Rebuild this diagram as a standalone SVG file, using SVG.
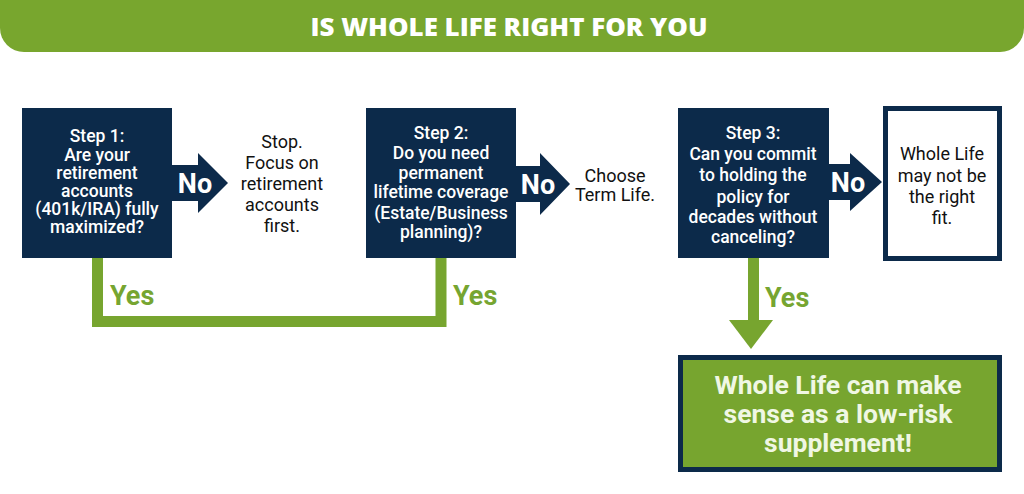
<svg xmlns="http://www.w3.org/2000/svg" width="1024" height="494" viewBox="0 0 1024 494">
<style>
.step{fill:#0c2a4a}
.bt{font-family:Roboto,"Liberation Sans",sans-serif;font-size:17.5px;font-weight:500;fill:#ffffff;text-anchor:middle}
.ot{font-family:Roboto,"Liberation Sans",sans-serif;font-size:18px;font-weight:400;fill:#111111;text-anchor:middle}
.no{font-family:Roboto,"Liberation Sans",sans-serif;font-size:27px;font-weight:700;fill:#ffffff;text-anchor:middle}
.yes{font-family:Roboto,"Liberation Sans",sans-serif;font-size:27px;font-weight:700;fill:#76a531}
.res{font-family:Roboto,"Liberation Sans",sans-serif;font-size:26.5px;font-weight:700;fill:#f0f7e4;text-anchor:middle}
.arr{fill:#0c2a4a}
.link{fill:none;stroke:#77a52f;stroke-width:11}
</style>
<rect width="1024" height="494" fill="#ffffff"/>
<g id="header">
<path d="M0,0 H1024 V28 A24,24 0 0 1 1000,52 H24 A24,24 0 0 1 0,28 Z" fill="#78a62e"/>
<text x="509" y="36" font-family="'Open Sans',Lato,sans-serif" font-size="25" font-weight="800" fill="#ffffff" text-anchor="middle" textLength="397" lengthAdjust="spacingAndGlyphs">IS WHOLE LIFE RIGHT FOR YOU</text>
</g>
<g id="connectors">
<path class="arr" d="M172,165 H198 V153 L228,183 L198,213 V201 H172 Z"/>
<text class="no" x="195" y="193">No</text>
<path class="arr" d="M516,166 H540 V153 L570,184 L540,215 V202 H516 Z"/>
<text class="no" x="538" y="194">No</text>
<path class="arr" d="M829,164 H850 V153 L882,182 L850,211 V200 H829 Z"/>
<text class="no" x="848" y="192">No</text>
<path class="link" d="M97.5,258 V321.5 H441 V258"/>
<text class="yes" x="110" y="305">Yes</text>
<text class="yes" x="453" y="305">Yes</text>
<rect x="748" y="258" width="11" height="64" fill="#77a52f"/>
<path d="M729,320 H773 L751,349 Z" fill="#77a52f"/>
<text class="yes" x="765" y="307">Yes</text>
</g>
<g id="step1">
<rect class="step" x="22" y="108" width="150" height="150"/>
<text class="bt" x="97" y="142">Step 1:</text>
<text class="bt" x="97" y="161">Are your</text>
<text class="bt" x="97" y="179">retirement</text>
<text class="bt" x="97" y="197">accounts</text>
<text class="bt" x="97" y="215">(401k/IRA) fully</text>
<text class="bt" x="97" y="233">maximized?</text>
</g>
<g id="stop">
<text class="ot" x="282" y="148">Stop.</text>
<text class="ot" x="282" y="169">Focus on</text>
<text class="ot" x="282" y="190">retirement</text>
<text class="ot" x="282" y="211">accounts</text>
<text class="ot" x="282" y="232">first.</text>
</g>
<g id="step2">
<rect class="step" x="366" y="108" width="150" height="150"/>
<text class="bt" x="441" y="139">Step 2:</text>
<text class="bt" x="441" y="159">Do you need</text>
<text class="bt" x="441" y="179">permanent</text>
<text class="bt" x="441" y="198">lifetime coverage</text>
<text class="bt" x="441" y="219">(Estate/Business</text>
<text class="bt" x="441" y="238">planning)?</text>
</g>
<g id="term">
<text class="ot" x="615" y="182">Choose</text>
<text class="ot" x="615" y="201">Term Life.</text>
</g>
<g id="step3">
<rect class="step" x="678" y="108" width="151" height="150"/>
<text class="bt" x="753" y="139">Step 3:</text>
<text class="bt" x="753" y="160">Can you commit</text>
<text class="bt" x="753" y="181">to holding the</text>
<text class="bt" x="753" y="203">policy for</text>
<text class="bt" x="753" y="223">decades without</text>
<text class="bt" x="753" y="243">canceling?</text>
</g>
<g id="notfit">
<rect x="885.5" y="108.5" width="114" height="150" fill="#ffffff" stroke="#0c2a4a" stroke-width="5"/>
<text class="ot" x="942" y="160">Whole Life</text>
<text class="ot" x="942" y="182">may not be</text>
<text class="ot" x="942" y="203">the right</text>
<text class="ot" x="942" y="224">fit.</text>
</g>
<g id="result">
<rect x="680.5" y="357.5" width="319" height="112" fill="#77a52f" stroke="#0c2a4a" stroke-width="5"/>
<text class="res" x="838" y="394">Whole Life can make</text>
<text class="res" x="838" y="423">sense as a low-risk</text>
<text class="res" x="838" y="452">supplement!</text>
</g>
</svg>
